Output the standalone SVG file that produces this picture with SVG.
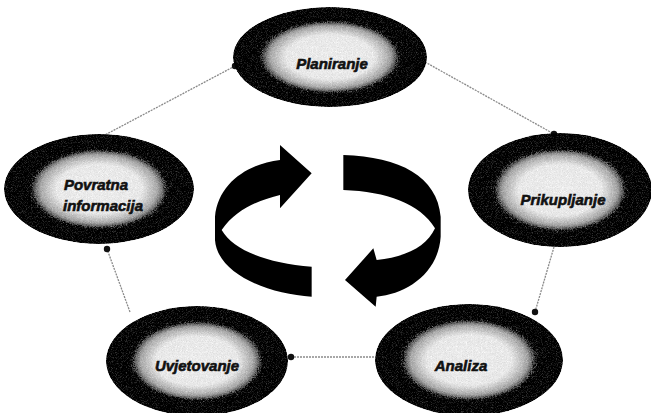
<svg xmlns="http://www.w3.org/2000/svg" width="651" height="413" viewBox="0 0 651 413">
<defs>
<radialGradient id="g" cx="50%" cy="50%" r="50%">
<stop offset="0" stop-color="#fff"/>
<stop offset="0.45" stop-color="#fcfcfc"/>
<stop offset="0.62" stop-color="#c4c4c4"/>
<stop offset="0.8" stop-color="#303030"/>
<stop offset="1" stop-color="#000"/>
</radialGradient>
<filter id="grain" x="0" y="0" width="100%" height="100%">
<feTurbulence type="fractalNoise" baseFrequency="1.2" numOctaves="1" seed="3" result="n"/>
<feColorMatrix in="n" type="saturate" values="0" result="m"/>
<feComposite in="SourceGraphic" in2="m" operator="arithmetic" k1="0" k2="1" k3="0.8" k4="-0.4" result="c"/>
<feComposite in="c" in2="SourceGraphic" operator="in"/>
</filter>
<marker id="dot" markerWidth="8" markerHeight="8" refX="4" refY="4" markerUnits="userSpaceOnUse">
<circle cx="4" cy="4" r="3.2" fill="#111"/>
</marker>
</defs>
<style>
.node ellipse{fill:url(#g);filter:url(#grain)}
.node text{font-family:"Liberation Sans",Arial,sans-serif;font-weight:bold;font-style:italic;font-size:15px;fill:#111;stroke:#111;stroke-width:0.6;text-anchor:middle}
.conn line{stroke:#8a8a8a;stroke-width:1.3;stroke-dasharray:2 1;marker-end:url(#dot)}
.cyc{fill:#000}
</style>
<rect width="651" height="413" fill="#fff"/>
<g id="connectors" class="conn">
<line x1="425" y1="62" x2="554" y2="134"/>
<line x1="554" y1="247" x2="535" y2="312"/>
<line x1="377" y1="357" x2="291" y2="357"/>
<line x1="130" y1="312" x2="107" y2="249"/>
<line x1="103" y1="136" x2="235" y2="66"/>
</g>
<g id="cycle" class="cyc" transform="translate(200 140) scale(0.33333)">
<path d="M335,100 L240,15 L240,60 C150,70 55,125 45,230 L45,300 C52,400 200,462 335,470 L335,380 C200,370 100,330 65,270 C110,205 180,180 240,165 L240,205 Z"/>
<path d="M430,45 C600,50 712,110 722,230 L722,290 C715,400 620,462 530,470 L527,500 L435,420 L520,325 L530,360 C620,350 680,320 705,265 C660,190 560,155 430,150 Z"/>
</g>
<g id="planiranje" class="node">
<ellipse cx="330" cy="57" rx="97" ry="50"/>
<text x="332" y="69">Planiranje</text>
</g>
<g id="povratna" class="node">
<ellipse cx="99" cy="189" rx="95" ry="55"/>
<text x="96" y="190">Povratna</text>
<text x="103" y="211">informacija</text>
</g>
<g id="prikupljanje" class="node">
<ellipse cx="560" cy="190" rx="92" ry="57"/>
<text x="563" y="205">Prikupljanje</text>
</g>
<g id="uvjetovanje" class="node">
<ellipse cx="197" cy="361" rx="91" ry="55"/>
<text x="197" y="371">Uvjetovanje</text>
</g>
<g id="analiza" class="node">
<ellipse cx="469" cy="360" rx="94" ry="56"/>
<text x="461" y="371">Analiza</text>
</g>
</svg>
